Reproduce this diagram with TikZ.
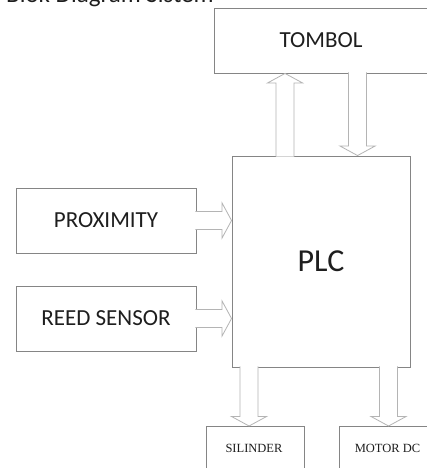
\documentclass[tikz,border=0pt]{standalone}
\usepackage{fontspec}
\setmainfont{Carlito}
\newfontfamily\smallserif{Liberation Serif}
\usetikzlibrary{calc}
\definecolor{boxgray}{HTML}{858585}
\definecolor{arrgray}{HTML}{B4B4B4}
\definecolor{txt}{HTML}{1E1E1E}
\tikzset{
  blockbox/.style={draw=boxgray, line width=0.9pt, fill=white, inner sep=0pt, text=txt, font=\fontsize{23}{26}\selectfont},
  blockarrow/.style={draw=arrgray, fill=white, line width=0.8pt, line join=miter,
    to path={
      ($(\tikztostart)!9pt!-90:(\tikztotarget)$)
      -- ($(\tikztotarget)!9.5pt!(\tikztostart)!9pt!90:(\tikztostart)$)
      -- ($(\tikztotarget)!9.5pt!(\tikztostart)!17.5pt!90:(\tikztostart)$)
      -- (\tikztotarget)
      -- ($(\tikztotarget)!9.5pt!(\tikztostart)!17.5pt!-90:(\tikztostart)$)
      -- ($(\tikztotarget)!9.5pt!(\tikztostart)!9pt!-90:(\tikztostart)$)
      -- ($(\tikztostart)!9pt!90:(\tikztotarget)$)
    }}
}
\begin{document}
\begin{tikzpicture}[x=1pt, y=-1pt]
\clip (0,0) rectangle (427,468);
\fill[white] (0,0) rectangle (427,468);
% title (partly cut off at top)
\node[anchor=base west, inner sep=0pt, text=txt, font=\fontsize{25}{28}\selectfont] (title) at (6,2.5) {Blok Diagram Sistem};
% boxes
\node[blockbox, minimum width=214pt, minimum height=65pt] (tombol) at (321,40.5) {TOMBOL};
\node[blockbox, minimum width=178pt, minimum height=211pt, font=\fontsize{32}{36}\selectfont] (plc) at (321,261.5) {PLC};
\node[blockbox, minimum width=180pt, minimum height=65pt] (prox) at (106,220.5) {PROXIMITY};
\node[blockbox, minimum width=180pt, minimum height=65pt] (reed) at (106,318.5) {REED SENSOR};
\node[blockbox, minimum width=98pt, minimum height=50pt, font=\smallserif\fontsize{12.5}{14}\selectfont, anchor=north] (sil) at (255,426) {};
\node[blockbox, minimum width=97pt, minimum height=50pt, font=\smallserif\fontsize{12.5}{14}\selectfont, anchor=north] (motor) at (387.5,426) {};
\node[text=txt, font=\smallserif\fontsize{12.5}{14}\selectfont, inner sep=0pt] (siltext) at (254,448) {SILINDER};
\node[text=txt, font=\smallserif\fontsize{12.5}{14}\selectfont, inner sep=0pt] (motortext) at (387.5,448) {MOTOR DC};
% arrow end points
\coordinate (a1s) at ($(plc.north west)+(53.5,1)$);
\coordinate (a1e) at (a1s |- tombol.south);
\coordinate (a2s) at ($(tombol.south west)+(144,-1)$);
\coordinate (a2e) at (a2s |- plc.north);
\coordinate (a3s) at ($(prox.east)+(-1,0)$);
\coordinate (a3e) at (a3s -| plc.west);
\coordinate (a4s) at ($(reed.east)+(-1,0)$);
\coordinate (a4e) at (a4s -| plc.west);
\coordinate (a5s) at ($(plc.south west)+(17.5,-1)$);
\coordinate (a5e) at (a5s |- sil.north);
\coordinate (a6s) at ($(plc.south west)+(157,-1)$);
\coordinate (a6e) at (a6s |- motor.north);
% arrows
\draw[blockarrow] (a1s) to (a1e);
\draw[blockarrow] (a2s) to (a2e);
\draw[blockarrow] (a3s) to (a3e);
\draw[blockarrow] (a4s) to (a4e);
\draw[blockarrow] (a5s) to (a5e);
\draw[blockarrow] (a6s) to (a6e);
\end{tikzpicture}
\end{document}
